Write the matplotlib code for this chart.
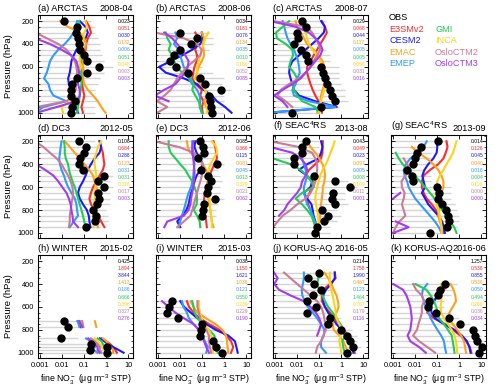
import numpy as np
import matplotlib
matplotlib.use("Agg")
import matplotlib.pyplot as plt
from matplotlib.ticker import MultipleLocator, LogLocator, NullFormatter

nan = np.nan

# ==========================================================
# Data (fine nitrate profiles, ug m-3 STP)
# ==========================================================

plev = [200, 250, 300, 350, 400, 450, 500, 550, 600, 650, 700, 750, 800, 850, 900, 950, 1000]
# WINTER 2015-02 uses its own low-level bins
plev_h = [725, 775, 825, 875, 900, 925, 950, 975, 1000]

names = ["OBS", "E3SMv2", "CESM2", "EMAC", "EMEP", "GMI", "INCA", "OsloCTM2", "OsloCTM3"]
colors = ["black", "#ff2a2a", "#1a1aff", "#ff9f1a", "#3399ff", "#22cc55", "#ffd21a", "#cc7a9a", "#a33cf0"]

# (a) ARCTAS 2008-04 : OBS, E3SMv2, CESM2, EMAC, EMEP, GMI, INCA, OsloCTM2, OsloCTM3
a_vals = [
    [0.012, 0.047, 0.044, 0.052, 0.058, 0.062, 0.095, 0.13, 0.46, 0.13, 0.047, 0.029, 0.024, 0.025, 0.037, 0.029, 0.025],
    [0.12, 0.17, 0.2, 0.145, 0.12, 0.114, 0.10, 0.081, 0.074, 0.074, 0.074, 0.081, 0.087, 0.10, 0.087, 0.074, 0.087],
    [0.062, 0.114, 0.145, 0.114, 0.074, 0.044, 0.033, 0.026, 0.024, 0.022, 0.0185, 0.02, 0.024, 0.026, 0.031, 0.041, 0.052],
    [0.0079, 0.0185, 0.062, 0.10, 0.12, 0.10, 0.10, 0.087, 0.087, 0.10, 0.087, 0.10, 0.145, 0.25, 0.41, 0.58, 0.91],
    [0.047, 0.041, 0.033, 0.022, 0.013, 0.0066, 0.004, 0.0028, 0.0024, 0.002, 0.0015, 0.0024, 0.0028, 0.004, 0.0155, 0.0014, 0.0006],
    [0.058, 0.062, 0.058, 0.055, 0.058, 0.062, 0.066, 0.068, 0.068, 0.074, 0.074, 0.074, 0.068, 0.062, 0.058, 0.052, 0.047],
    [0.114, 0.13, 0.10, 0.087, 0.087, 0.074, 0.062, 0.062, 0.074, 0.052, 0.037, 0.031, 0.037, 0.031, 0.022, 0.0093, 0.011],
    [nan, nan, 0.0006, 0.002, 0.0066, 0.0155, 0.026, 0.037, 0.044, 0.047, 0.044, 0.041, 0.041, 0.031, 0.0155, 0.0007, nan],
    [nan, nan, nan, 0.0006, 0.0028, 0.0093, 0.026, 0.044, 0.052, 0.058, 0.052, 0.052, 0.062, 0.062, 0.044, 0.0056, 0.0007],
]
a_rng = [0.2, 0.3, 0.3, 0.4, 0.5, 0.5, 0.6, 0.8, 2.0, 0.8, 0.5, 0.4, 0.3, 0.3, 0.4, 0.3, 0.3]
a_num = ["0.023", "0.051", "0.030", "0.132", "0.006", "0.051", "0.048", "0.003", "0.003"]

# (b) ARCTAS 2008-06
b_vals = [
    [nan, nan, 0.0093, 0.057, 0.031, 0.0097, 0.0052, 0.0033, 0.0066, 0.022, 0.076, 0.135, 0.71, 0.21, 0.23, 0.24, 0.27],
    [nan, nan, 0.048, 0.068, 0.058, 0.048, 0.058, 0.055, 0.044, 0.039, 0.035, 0.048, 0.095, 0.081, 0.114, 0.095, 0.105],
    [nan, nan, 0.095, 0.105, 0.081, 0.035, 0.012, 0.0037, 0.0011, 0.0022, 0.0145, 0.058, 0.114, 0.27, 0.46, 1.07, 2.1],
    [nan, nan, 0.095, 0.12, 0.105, 0.114, 0.12, 0.095, 0.068, 0.058, 0.048, 0.081, 0.135, 0.16, 0.12, 0.15, 0.19],
    [nan, nan, 0.0061, 0.0073, 0.0052, 0.0086, 0.01, 0.012, 0.0145, 0.02, 0.024, 0.035, 0.058, 0.076, 0.081, 0.076, 0.095],
    [nan, nan, 0.0022, 0.0026, 0.0037, 0.003, 0.0043, 0.0052, 0.0073, 0.012, 0.029, 0.041, 0.035, 0.048, 0.068, 0.081, 0.095],
    [nan, nan, 0.19, 0.135, 0.114, 0.095, 0.081, 0.068, 0.058, 0.058, 0.068, 0.095, 0.135, 0.16, 0.19, 0.16, 0.16],
    [nan, nan, 0.0007, 0.0145, 0.058, 0.095, 0.081, 0.041, 0.02, 0.012, 0.0073, 0.0052, 0.0037, 0.0019, 0.0009, 0.0026, 0.0009],
    [nan, nan, 0.0019, 0.0043, 0.0073, 0.012, 0.017, 0.024, 0.022, 0.017, 0.01, 0.0061, 0.0019, 0.0007, 0.003, nan, nan],
]
b_rng = [nan, nan, 0.2, 0.3, 0.3, 0.2, 0.1, 0.1, 0.1, 0.3, 1.0, 0.8, 2.0, 1.0, 1.0, 1.0, 1.0]
b_num = ["0.034", "0.181", "0.076", "0.134", "0.035", "0.010", "0.166", "0.052", "0.085"]

# (c) ARCTAS 2008-07
c_vals = [
    [0.017, 0.024, 0.010, 0.011, 0.0073, 0.0145, 0.024, 0.032, 0.125, 0.145, 0.18, 0.23, 0.29, 0.38, 0.50, 0.125, 0.006],
    [0.13, 0.18, 0.22, 0.16, 0.11, 0.08, 0.055, 0.04, 0.028, 0.028, 0.033, 0.04, 0.05, 0.066, 0.093, 0.12, 0.13],
    [0.12, 0.18, 0.16, 0.093, 0.047, 0.024, 0.012, 0.006, 0.0046, 0.0043, 0.005, 0.006, 0.0071, 0.012, 0.066, 0.62, 0.0005],
    [0.0085, 0.01, 0.0145, 0.02, 0.028, 0.055, 0.093, 0.14, 0.17, 0.2, 0.18, 0.17, 0.14, 0.12, 0.11, 0.093, 0.08],
    [0.0022, 0.0026, 0.003, 0.0036, 0.005, 0.0071, 0.009, 0.011, 0.012, 0.013, 0.01, 0.0085, 0.006, 0.0071, 0.034, 0.54, 0.0005],
    [0.0043, 0.0022, 0.0011, 0.0012, 0.003, 0.006, 0.0065, 0.005, 0.0043, 0.0071, 0.01, 0.006, 0.0071, 0.01, 0.017, 0.066, 0.093],
    [0.0165, 0.02, 0.024, 0.028, 0.034, 0.047, 0.08, 0.11, 0.14, 0.17, 0.18, 0.18, 0.17, 0.14, 0.12, 0.11, 0.093],
    [0.0008, 0.028, 0.047, 0.066, 0.093, 0.11, 0.08, 0.055, 0.04, 0.024, 0.012, 0.0043, 0.0018, 0.0013, 0.003, 0.006, nan],
    [0.0006, 0.0085, 0.034, 0.066, 0.11, 0.14, 0.11, 0.066, 0.04, 0.024, 0.0145, 0.006, 0.0022, 0.0009, 0.0022, 0.0036, nan],
]
c_rng = [0.2, 0.2, 0.1, 0.1, 0.1, 0.2, 0.3, 0.3, 0.8, 0.8, 0.8, 1.0, 1.5, 1.5, 2.0, 0.8, 0.1]
c_num = ["0.029", "0.068", "0.044", "0.117", "0.005", "0.005", "0.056", "0.031", "0.016"]

# (d) DC3 2012-05
d_vals = [
    [0.058, 0.12, 0.093, 0.062, 0.058, 0.087, 0.81, 0.41, 0.74, 0.41, 0.44, 0.38, 0.25, 0.35, 0.32, 0.12, nan],
    [0.49, 0.58, 0.69, 0.74, 0.81, 0.69, 0.49, 0.35, 0.25, 0.2, 0.17, 0.2, 0.29, 0.41, 0.58, 0.81, nan],
    [0.49, 0.58, 0.49, 0.29, 0.2, 0.145, 0.114, 0.087, 0.062, 0.052, 0.062, 0.087, 0.13, 0.16, 0.17, 0.19, nan],
    [0.013, 0.022, 0.037, 0.062, 0.10, 0.17, 0.25, 0.29, 0.35, 0.41, 0.41, 0.37, 0.35, 0.35, 0.37, 0.41, nan],
    [0.0093, 0.0085, 0.0079, 0.0073, 0.0079, 0.0093, 0.012, 0.0145, 0.0185, 0.026, 0.037, 0.044, 0.047, 0.052, 0.033, 0.022, nan],
    [0.012, 0.013, 0.013, 0.0145, 0.0185, 0.02, 0.024, 0.029, 0.037, 0.044, 0.052, 0.062, 0.074, 0.087, 0.10, 0.114, nan],
    [0.58, 0.41, 0.35, 0.29, 0.29, 0.32, 0.35, 0.35, 0.32, 0.29, 0.29, 0.27, 0.26, 0.25, 0.25, 0.26, nan],
    [0.0006, 0.0014, 0.0028, 0.0056, 0.0093, 0.013, 0.0185, 0.024, 0.029, 0.031, 0.029, 0.026, 0.024, 0.022, 0.022, 0.02, nan],
    [nan, nan, nan, nan, 0.00065, 0.0017, 0.004, 0.0066, 0.01, 0.0155, 0.02, 0.024, 0.026, 0.029, 0.031, 0.052, nan],
]
d_rng = [0.3, 0.5, 0.5, 0.4, 0.3, 0.4, 2.0, 1.5, 2.0, 1.5, 1.5, 1.5, 1.0, 1.2, 1.2, 0.5, nan]
d_num = ["0.108", "0.684", "0.288", "0.123", "0.031", "0.031", "0.316", "0.017", "0.003"]

# (e) DC3 2012-06
e_vals = [
    [0.081, 0.105, 0.12, 0.062, 0.46, 0.087, 0.19, 0.26, 0.18, 0.155, 0.38, 0.12, 0.105, 0.10, nan, nan, nan],
    [0.32, 0.38, 0.43, 0.46, 0.35, 0.27, 0.21, 0.18, 0.15, 0.135, 0.12, 0.12, 0.12, 0.135, 0.15, 0.16, nan],
    [0.048, 0.044, 0.055, 0.076, 0.105, 0.081, 0.055, 0.044, 0.039, 0.031, 0.027, 0.024, 0.019, 0.012, 0.0073, 0.01, nan],
    [0.02, 0.022, 0.029, 0.058, 0.105, 0.15, 0.18, 0.18, 0.16, 0.18, 0.19, 0.21, 0.23, 0.25, 0.27, 0.32, nan],
    [0.035, 0.035, 0.039, 0.041, 0.044, 0.041, 0.039, 0.035, 0.031, 0.024, 0.02, 0.017, 0.0145, 0.012, 0.01, 0.0086, nan],
    [0.003, 0.003, 0.0037, 0.0061, 0.01, 0.017, 0.024, 0.035, 0.044, 0.055, 0.058, 0.055, 0.041, 0.058, 0.076, 0.081, nan],
    [0.27, 0.43, 0.46, 0.32, 0.23, 0.19, 0.18, 0.18, 0.19, 0.19, 0.21, 0.23, 0.23, 0.25, 0.27, 0.27, nan],
    [0.0007, 0.0086, 0.041, 0.081, 0.105, 0.105, 0.095, 0.081, 0.068, 0.058, 0.048, 0.041, 0.035, 0.029, 0.0145, 0.0073, nan],
    [0.039, 0.035, 0.035, 0.039, 0.041, 0.044, 0.044, 0.041, 0.039, 0.035, 0.031, 0.029, 0.024, 0.0145, 0.0026, 0.0019, nan],
]
e_rng = [0.3, 0.3, 0.4, 0.3, 1.0, 0.5, 0.6, 0.8, 0.6, 0.6, 1.0, 0.5, 0.4, 0.4, nan, nan, nan]
e_num = ["0.085", "0.366", "0.115", "0.081", "0.045", "0.013", "0.329", "0.021", "0.062"]

# (f) SEAC4RS 2013-08
f_vals = [
    [0.024, 0.016, 0.0165, 0.0071, 0.0071, nan, 0.055, 0.49, 2.4, 0.41, 0.38, 0.53, 0.13, 0.24, 0.16, 0.08, 0.066],
    [0.145, 0.14, 0.14, 0.12, 0.066, 0.034, 0.024, 0.05, 0.047, 0.036, 0.028, 0.031, 0.04, 0.05, 0.062, 0.07, 0.08],
    [0.12, 0.14, 0.12, 0.093, 0.028, 0.012, 0.028, 0.047, 0.04, 0.02, 0.028, 0.044, 0.05, 0.055, 0.066, 0.07, 0.075],
    [0.028, 0.04, 0.066, 0.1, 0.14, 0.17, 0.18, 0.17, 0.145, 0.14, 0.13, 0.12, 0.11, 0.11, 0.1, 0.093, 0.088],
    [nan, nan, nan, 0.0165, 0.02, 0.024, 0.028, 0.024, 0.02, 0.02, 0.024, 0.028, 0.04, 0.05, 0.063, 0.066, 0.07],
    [nan, nan, nan, 0.0008, 0.005, 0.0145, 0.028, 0.044, 0.055, 0.0165, 0.0085, 0.0165, 0.028, 0.044, 0.055, 0.066, 0.07],
    [0.49, 0.41, 0.32, 0.26, 0.2, 0.14, 0.11, 0.093, 0.08, 0.07, 0.066, 0.07, 0.08, 0.088, 0.093, 0.093, 0.093],
    [0.0006, 0.012, 0.047, 0.066, 0.08, 0.08, 0.073, 0.066, 0.055, 0.04, 0.024, 0.01, 0.005, 0.0022, 0.0013, 0.0008, 0.0006],
    [nan, 0.0006, 0.006, 0.0145, 0.024, 0.028, 0.024, 0.0165, 0.0145, 0.01, 0.006, 0.0036, 0.0026, 0.0015, nan, nan, nan],
]
f_rng = [0.1, 0.1, 0.1, 0.05, 0.05, nan, 0.2, 2.0, 5.0, 1.5, 1.5, 2.0, 0.6, 1.0, 0.6, 0.3, 0.3]
f_num = ["0.043", "0.049", "0.023", "0.097", "0.005", "0.008", "0.109", "0.011", "0.001"]

# (g) SEAC4RS 2013-09
g_vals = [
    [0.11, 0.0185, 0.012, 0.0093, 0.0076, 0.0043, 0.007, 0.0076, 0.10, 0.117, 0.105, 0.165, 0.24, 0.31, 0.33, 0.27, 0.047],
    [0.26, 0.29, 0.24, 0.19, 0.11, 0.047, 0.024, 0.02, 0.02, 0.024, 0.033, 0.056, 0.085, 0.117, 0.165, 0.2, 0.19],
    [0.093, 0.1, 0.093, 0.066, 0.039, 0.026, 0.021, 0.024, 0.028, 0.02, 0.028, 0.039, 0.066, 0.11, 0.155, 0.2, 0.22],
    [nan, 0.007, 0.014, 0.033, 0.066, 0.11, 0.155, 0.19, 0.19, 0.155, 0.145, 0.13, 0.117, 0.11, 0.13, 0.155, 0.165],
    [0.033, 0.024, 0.012, 0.006, 0.0038, 0.003, 0.0033, 0.0043, 0.005, 0.007, 0.01, 0.0165, 0.028, 0.047, 0.078, 0.117, 0.155],
    [nan, nan, 0.0013, 0.0018, 0.0027, 0.005, 0.0093, 0.0165, 0.028, 0.047, 0.074, 0.11, 0.165, 0.26, 0.37, 0.58, 0.74],
    [0.74, 0.62, 0.52, 0.37, 0.26, 0.19, 0.13, 0.1, 0.093, 0.085, 0.085, 0.093, 0.11, 0.13, 0.145, 0.155, 0.155],
    [nan, nan, nan, 0.003, 0.0043, 0.006, 0.0036, 0.0024, 0.0025, 0.0033, 0.003, 0.0025, 0.003, 0.0036, 0.0019, 0.0013, 0.001],
    [nan, nan, nan, nan, nan, nan, nan, nan, nan, 0.0021, 0.001, nan, nan, nan, 0.0013, 0.005, 0.001],
]
g_rng = [0.3, 0.1, 0.05, 0.05, 0.05, 0.03, 0.05, 0.05, 0.4, 0.4, 0.4, 0.6, 0.8, 1.0, 1.0, 0.8, 0.2]
g_num = ["0.014", "0.126", "0.045", "0.040", "0.016", "0.004", "0.116", "0.000", "0.000"]

# (h) WINTER 2015-02 (levels: plev_h)
h_vals = [
    [0.012, 0.018, nan, 0.009, nan, 0.2, 1.05, 0.19, 1.1],
    [0.07, 0.08, nan, 0.6, 1.0, 1.5, 2.0, 2.5, 3.0],
    [0.05, 0.07, nan, 0.5, 0.8, 1.2, 2.0, 3.5, 6.0],
    [0.3, 0.35, nan, 0.7, 1.0, 1.3, 1.6, 2.0, 2.0],
    [0.05, 0.06, nan, 0.12, 0.2, 0.3, 0.3, 0.25, 0.4],
    [0.06, 0.08, nan, 0.4, 0.6, 0.7, 0.8, 1.0, 1.0],
    [0.07, 0.08, nan, 0.3, 0.4, 0.5, 0.6, 0.8, 1.0],
    [0.08, 0.09, nan, 0.2, 0.3, 0.4, 0.5, 0.5, 0.6],
    [0.06, 0.08, nan, 0.15, 0.2, 0.3, 0.4, 0.4, 0.5],
]
h_rng = [0.05, 0.1, nan, 0.05, nan, 1.0, 3.0, 1.0, 3.0]
h_num = ["0.425", "1.894", "3.844", "1.413", "0.186", "0.666", "0.396", "0.327", "0.276"]

# (i) WINTER 2015-03
i_vals = [
    [nan] * 7 + [0.0044, 0.0031, 0.0024, 0.0079, 0.098, 0.091, 0.076, 0.30, 0.43, 0.76],
    [nan] * 7 + [0.02, 0.025, 0.04, 0.08, 0.2, 0.6, 1.2, 2.0, 2.5, 2.0],
    [nan] * 7 + [0.01, 0.015, 0.03, 0.06, 0.15, 0.4, 1.5, 3.0, 3.5, 4.0],
    [nan] * 7 + [0.03, 0.04, 0.06, 0.15, 0.4, 0.8, 1.2, 1.3, 1.4, 1.5],
    [nan] * 7 + [0.012, 0.014, 0.02, 0.025, 0.04, 0.07, 0.1, 0.13, 0.18, 0.15],
    [nan] * 7 + [0.035, 0.04, 0.045, 0.06, 0.1, 0.2, 0.35, 0.4, 0.4, 0.5],
    [nan] * 7 + [0.07, 0.07, 0.08, 0.09, 0.12, 0.2, 0.25, 0.3, 0.3, 0.3],
    [nan] * 7 + [0.06, 0.06, 0.07, 0.08, 0.1, 0.15, 0.2, 0.2, 0.22, 0.25],
    [nan] * 7 + [0.0015, 0.003, 0.006, 0.015, 0.04, 0.07, 0.1, 0.12, 0.15, 0.2],
]
i_rng = [nan] * 7 + [0.03, 0.02, 0.02, 0.05, 0.4, 0.4, 0.4, 1.0, 1.5, 2.0]
i_num = ["0.038", "1.150", "1.621", "1.036", "0.121", "0.550", "0.239", "0.229", "0.190"]

# (j) KORUS-AQ 2016-05
j_vals = [
    [nan, nan, 0.098, 0.032, 0.058, 0.115, 0.052, 0.027, 0.069, 0.029, 0.32, 0.25, 1.0, 1.8, 2.5, 3.2, 1.8],
    [nan, nan, 0.5, 0.55, 0.3, 0.15, 0.13, 0.13, 0.18, 0.3, 0.5, 0.8, 1.3, 2.0, 2.8, 3.5, 4.0],
    [nan, nan, 0.5, 0.5, 0.35, 0.2, 0.15, 0.15, 0.18, 0.25, 0.4, 0.6, 1.0, 1.5, 2.2, 3.0, 3.5],
    [nan, nan, 0.17, 0.25, 0.35, 0.45, 0.6, 0.7, 0.75, 0.6, 0.45, 0.4, 0.45, 0.8, 1.2, 1.6, 2.0],
    [nan, nan, 0.02, 0.02, 0.018, 0.016, 0.017, 0.022, 0.03, 0.05, 0.08, 0.12, 0.17, 0.16, 0.12, 0.12, 0.2],
    [nan, nan, 0.1, 0.09, 0.08, 0.1, 0.14, 0.18, 0.25, 0.4, 0.6, 0.9, 1.3, 1.5, 1.1, 1.2, 1.4],
    [nan, nan, 0.3, 0.3, 0.3, 0.35, 0.4, 0.45, 0.5, 0.55, 0.6, 0.8, 1.0, 0.9, 0.8, 0.9, 1.0],
    [nan, nan, 0.0025, 0.005, 0.01, 0.02, 0.04, 0.08, 0.12, 0.15, 0.17, 0.18, 0.2, 0.15, 0.12, 0.08, 0.07],
    [nan, nan, 0.0009, 0.0013, 0.0009, 0.0015, 0.005, 0.02, 0.04, 0.07, 0.1, 0.12, 0.1, 0.08, nan, nan, nan],
]
j_rng = [nan, nan, 0.4, 0.2, 0.3, 0.4, 0.3, 0.2, 0.3, 0.2, 1.0, 1.0, 3.0, 5.0, 5.0, 8.0, 5.0]
j_num = ["0.214", "1.758", "1.990", "0.467", "0.123", "1.464", "0.767", "0.179", "0.116"]

# (k) KORUS-AQ 2016-06
k_vals = [
    [nan] * 4 + [0.225, 0.135, 0.11, 0.044, 0.037, 0.087, 0.34, 1.1, 4.0, 5.1, 6.5, 11.0, 7.9],
    [nan] * 4 + [0.3, 0.2, 0.12, 0.06, 0.04, 0.035, 0.07, 0.22, 0.5, 1.1, 2.0, 3.0, 3.5],
    [nan] * 4 + [0.25, 0.17, 0.11, 0.07, 0.05, 0.055, 0.08, 0.2, 0.6, 1.3, 2.2, 2.8, 3.2],
    [nan] * 4 + [0.4, 0.55, 0.65, 0.7, 0.5, 0.35, 0.3, 0.5, 0.8, 1.2, 1.6, 1.8, 2.0],
    [nan] * 4 + [0.035, 0.022, 0.02, 0.025, 0.03, 0.04, 0.05, 0.07, 0.1, 0.15, 0.2, 0.22, 0.25],
    [nan] * 4 + [0.01, 0.032, 0.05, 0.07, 0.09, 0.1, 0.12, 0.2, 0.3, 0.45, 0.5, 0.55, 0.6],
    [nan] * 4 + [0.15, 0.15, 0.16, 0.15, 0.14, 0.15, 0.2, 0.3, 0.45, 0.6, 0.7, 0.75, 0.8],
    [nan] * 4 + [0.008, 0.011, 0.02, 0.025, 0.02, 0.02, 0.017, 0.014, 0.012, 0.008, 0.015, 0.035, 0.08],
    [nan] * 4 + [0.001, 0.0028, 0.004, 0.005, 0.006, 0.0065, 0.007, 0.0065, 0.006, 0.0045, 0.006, 0.015, 0.03],
]
k_rng = [nan] * 4 + [0.8, 0.5, 0.4, 0.2, 0.2, 0.4, 1.0, 3.0, 8.0, 10.0, 12.0, 15.0, 15.0]
k_num = ["1.257", "0.536", "0.855", "0.536", "0.050", "0.494", "0.269", "0.036", "0.034"]

panels = [
    ("(a) ARCTAS", "2008-04", plev, a_vals, a_rng, a_num, 0, 0),
    ("(b) ARCTAS", "2008-06", plev, b_vals, b_rng, b_num, 0, 1),
    ("(c) ARCTAS", "2008-07", plev, c_vals, c_rng, c_num, 0, 2),
    ("(d) DC3", "2012-05", plev, d_vals, d_rng, d_num, 1, 0),
    ("(e) DC3", "2012-06", plev, e_vals, e_rng, e_num, 1, 1),
    ("(f) SEAC$^4$RS", "2013-08", plev, f_vals, f_rng, f_num, 1, 2),
    ("(g) SEAC$^4$RS", "2013-09", plev, g_vals, g_rng, g_num, 1, 3),
    ("(h) WINTER", "2015-02", plev_h, h_vals, h_rng, h_num, 2, 0),
    ("(i) WINTER", "2015-03", plev, i_vals, i_rng, i_num, 2, 1),
    ("(j) KORUS-AQ", "2016-05", plev, j_vals, j_rng, j_num, 2, 2),
    ("(k) KORUS-AQ", "2016-06", plev, k_vals, k_rng, k_num, 2, 3),
]

# ==========================================================
# Figure
# ==========================================================

plt.rcParams["font.family"] = ["Liberation Sans", "DejaVu Sans"]
plt.rcParams["mathtext.fontset"] = "custom"
plt.rcParams["mathtext.rm"] = "Liberation Sans"
plt.rcParams["mathtext.it"] = "Liberation Sans:italic"

fig = plt.figure(figsize=(5, 3.89), dpi=100)

lefts = [0.076, 0.312, 0.546, 0.782]
bottoms = [0.697, 0.388, 0.080]
w, h = 0.19, 0.265
xmin, xmax = 0.0008, 16

for title, date, lev, vals, rng, num, row, col in panels:
    ax = fig.add_axes([lefts[col], bottoms[row], w, h])

    # observed range (grey bars)
    ax.hlines(lev, xmin, rng, color="#d4d4d4", lw=1.0, zorder=1)

    # models
    for m in range(1, 9):
        ax.plot(vals[m], lev, color=colors[m], lw=1.5, zorder=2)

    # observations
    ax.plot(vals[0], lev, "o", color="black", ms=5, zorder=3)

    ax.set_xscale("log")
    ax.set_xlim(xmin, xmax)
    ax.set_ylim(1045, 145)
    ax.set_yticks([200, 400, 600, 800, 1000])
    ax.yaxis.set_minor_locator(MultipleLocator(50))
    ax.set_xticks([0.001, 0.01, 0.1, 1, 10])
    ax.set_xticklabels(["0.001", "0.01", "0.1", "1", "10"])
    ax.xaxis.set_minor_locator(LogLocator(base=10, subs=np.arange(2, 10)))
    ax.xaxis.set_minor_formatter(NullFormatter())
    ax.tick_params(which="both", direction="in", top=True, right=True, labelsize=5.3, pad=3)
    ax.tick_params(which="major", length=3, width=0.6)
    ax.tick_params(which="minor", length=1.5, width=0.5)
    for s in ax.spines.values():
        s.set_linewidth(0.8)

    if col == 0:
        ax.set_ylabel("Pressure (hPa)", fontsize=6.8, labelpad=3)
    else:
        ax.set_yticklabels([])
    if row == 2:
        ax.set_xlabel("fine NO$_3^-$ (μg m$^{-3}$ STP)", fontsize=6.3, labelpad=3)
    else:
        ax.set_xticklabels([])

    ax.text(0.0, 1.02, title, transform=ax.transAxes, ha="left", va="bottom", fontsize=6.6)
    ax.text(1.0, 1.02, date, transform=ax.transAxes, ha="right", va="bottom", fontsize=6.6)

    # mean values
    for m in range(9):
        ax.text(0.97, 0.935 - m * 0.069, num[m], transform=ax.transAxes, ha="right",
                va="center", fontsize=3.6, color=colors[m])

# ==========================================================
# Legend (text only)
# ==========================================================

leg_x = [0.778, 0.87]
leg_y = [0.955, 0.925, 0.895, 0.866, 0.838]
fig.text(leg_x[0], leg_y[0], names[0], color=colors[0], fontsize=6.6, va="center")
for m in range(1, 5):
    fig.text(leg_x[0], leg_y[m], names[m], color=colors[m], fontsize=6.6, va="center")
for m in range(5, 9):
    fig.text(leg_x[1], leg_y[m - 4], names[m], color=colors[m], fontsize=6.6, va="center")

fig.savefig("out.png", dpi=100)
